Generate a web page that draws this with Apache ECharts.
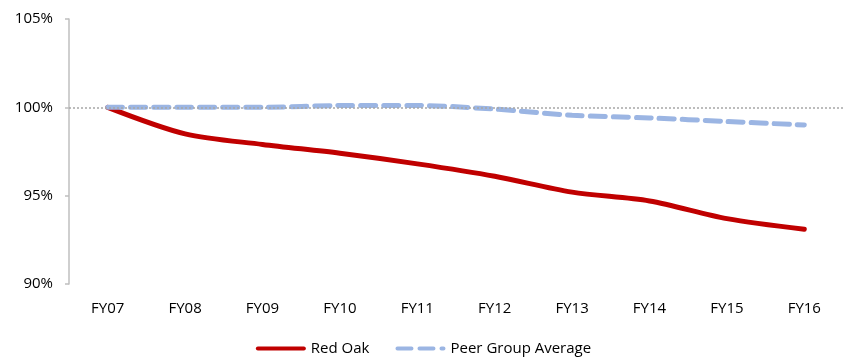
<!DOCTYPE html>
<html><head><meta charset="utf-8">
<script src="https://cdn.jsdelivr.net/npm/echarts@6/dist/echarts.min.js"></script>
<style>html,body{margin:0;padding:0;background:#fff}#c{width:847px;height:357px}</style>
</head><body><div id="c"></div>
<script>
var categories = ['FY07','FY08','FY09','FY10','FY11','FY12','FY13','FY14','FY15','FY16'];
var redOak = [100, 98.5, 97.9, 97.4, 96.8, 96.1, 95.2, 94.7, 93.7, 93.1];
var peerAvg = [100, 100, 100, 100.1, 100.1, 99.9, 99.55, 99.4, 99.2, 99.0];
var yTicks = [90, 95, 100, 105];
var FONT = 'Open Sans';
var chart = echarts.init(document.getElementById('c'));
chart.setOption({
  animation: false,
  grid: {left: 69, right: 4, top: 19, bottom: 73, containLabel: false},
  xAxis: {
    type: 'category', data: categories, boundaryGap: true,
    axisLine: {show: false}, axisTick: {show: false},
    axisLabel: {color: '#000', fontFamily: FONT, fontSize: 15, margin: 17}
  },
  yAxis: {
    type: 'value', min: yTicks[0], max: yTicks[yTicks.length-1], interval: 5,
    axisLine: {show: true, lineStyle: {color: '#BFBFBF', width: 1.5}},
    axisTick: {show: true, length: 4, lineStyle: {color: '#BFBFBF', width: 1.5}},
    splitLine: {show: false},
    axisLabel: {color: '#000', fontFamily: FONT, fontSize: 15, margin: 16,
      formatter: function(v){return v + '%';}}
  },
  legend: {
    top: 338, left: 'center', itemWidth: 50, itemHeight: 5, itemGap: 26,
    padding: [3, 0, 0, 0],
    textStyle: {color: '#000', fontFamily: FONT, fontSize: 15},
    data: [
      {name: 'Red Oak', icon: 'path://M2,0H48A2,2,0,0,1,48,4H2A2,2,0,0,1,2,0Z'},
      {name: 'Peer Group Average', icon: 'path://M2,0H16A2,2,0,0,1,16,4H2A2,2,0,0,1,2,0Z M24,0H38A2,2,0,0,1,38,4H24A2,2,0,0,1,24,0Z M46,0H48A2,2,0,0,1,48,4H46A2,2,0,0,1,46,0Z M0,0H0.01V4H0Z M49.99,0H50V4H49.99Z'}
    ]
  },
  series: [
    {
      name: 'Red Oak', type: 'line', data: redOak, smooth: 0.3,
      symbol: 'none', z: 3,
      lineStyle: {color: '#C00000', width: 5, cap: 'round'},
      itemStyle: {color: '#C00000'},
      markLine: {
        silent: true, symbol: 'none', label: {show: false},
        lineStyle: {color: '#A6A6A6', type: [2, 2], width: 1.5},
        data: [{yAxis: 100}]
      }
    },
    {
      name: 'Peer Group Average', type: 'line', data: peerAvg, smooth: 0.3,
      symbol: 'none', z: 4,
      lineStyle: {color: '#9BB5E3', width: 5, type: [15, 8], cap: 'round'},
      itemStyle: {color: '#9BB5E3'}
    }
  ]
});
</script></body></html>
